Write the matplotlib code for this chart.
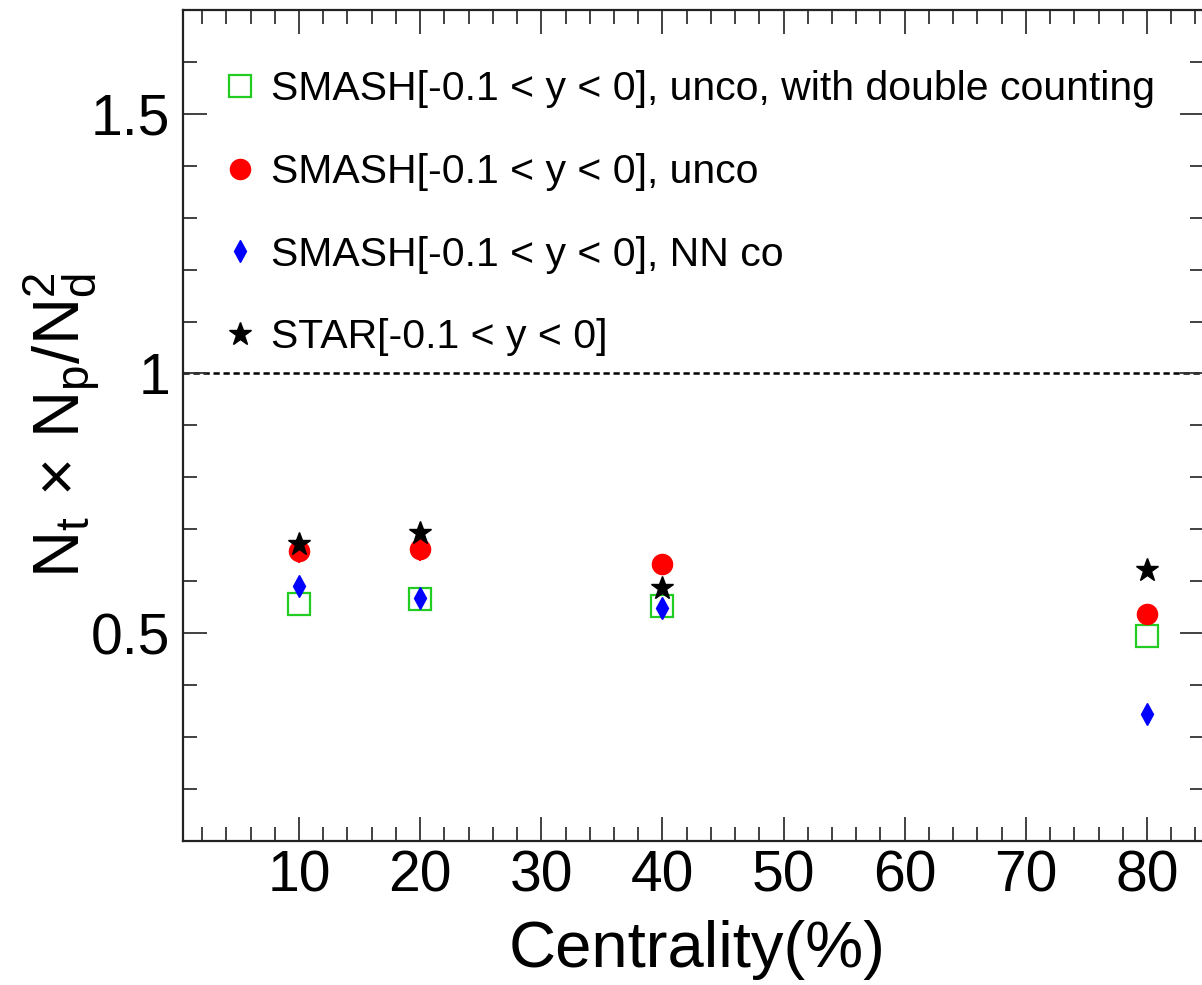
import numpy as np
import matplotlib
matplotlib.use("Agg")
import matplotlib.pyplot as plt
from matplotlib.ticker import MultipleLocator, FormatStrFormatter

plt.rcParams['font.family'] = ['Liberation Sans', 'DejaVu Sans']
plt.rcParams['mathtext.fontset'] = 'custom'
plt.rcParams['mathtext.rm'] = 'Liberation Sans'
plt.rcParams['mathtext.it'] = 'Liberation Sans'

# centrality bins (%)
centrality = [10, 20, 40, 80]

# N_t * N_p / N_d^2
smash_dc = [0.556, 0.565, 0.552, 0.494]      # unco, with double counting
smash_dc_err = [0.021, 0.022, 0.015, 0.018]
smash_unco = [0.658, 0.662, 0.633, 0.537]
smash_unco_err = [0.023, 0.023, 0.010, 0.010]
smash_nnco = [0.591, 0.568, 0.548, 0.344]
star = [0.671, 0.693, 0.587, 0.621]

labels = [
    "SMASH[-0.1 < y < 0], unco, with double counting",
    "SMASH[-0.1 < y < 0], unco",
    "SMASH[-0.1 < y < 0], NN co",
    "STAR[-0.1 < y < 0]",
]

fig = plt.figure(figsize=(12.02, 9.85), dpi=100)
ax = fig.add_axes([0.1522, 0.1465, 0.8494, 0.8433])

green = '#22cc22'

ax.axhline(1.0, color='black', ls=(0, (2.5, 1.5)), lw=1.8, zorder=1)

h1 = ax.errorbar(centrality, smash_dc, yerr=smash_dc_err, fmt='s', ms=15.5,
                 mfc='white', mec=green, mew=1.6, ecolor=green, elinewidth=1.6,
                 capsize=0, zorder=2)
h2 = ax.errorbar(centrality, smash_unco, yerr=smash_unco_err, fmt='o', ms=14.5,
                 color='red', ecolor='red', elinewidth=1.6, capsize=0,
                 zorder=3)
h3, = ax.plot(centrality, smash_nnco, 'd', ms=11, color='blue', mec='blue',
              zorder=4)
h4, = ax.plot(centrality, star, '*', ms=17, color='black', mec='black',
              zorder=5)

ax.set_xlim(0.42, 84.7)
ax.set_ylim(0.1, 1.7)

ax.xaxis.set_major_locator(MultipleLocator(10))
ax.xaxis.set_minor_locator(MultipleLocator(2))
ax.yaxis.set_major_locator(MultipleLocator(0.5))
ax.yaxis.set_minor_locator(MultipleLocator(0.1))
ax.yaxis.set_major_formatter(FormatStrFormatter('%g'))

ax.tick_params(which='both', direction='in', top=True, right=True,
               width=1.3, color='#333333', labelsize=41)
ax.tick_params(which='major', length=17.5)
ax.tick_params(which='minor', length=10)
ax.tick_params(axis='x', which='major', pad=6)
ax.tick_params(axis='y', which='major', pad=9)
for s in ax.spines.values():
    s.set_linewidth(1.6)
    s.set_color('#222222')

ax.set_xlabel("Centrality(%)", fontsize=47)
ax.xaxis.set_label_coords(0.504, -0.095)
ax.set_ylabel(r"$\mathrm{N_{t}\,\times\,N_{p}/N_{d}^{2}}$", fontsize=47)
ax.yaxis.set_label_coords(-0.078, 0.5)

ax.legend(handles=[h1[0], h2[0], h3, h4], labels=labels, loc='upper left',
          bbox_to_anchor=(0.02, 0.947), frameon=False, fontsize=29.5,
          handlelength=1.0, handletextpad=0.25, labelspacing=1.09,
          borderaxespad=0)

fig.savefig("out.png", dpi=100)
